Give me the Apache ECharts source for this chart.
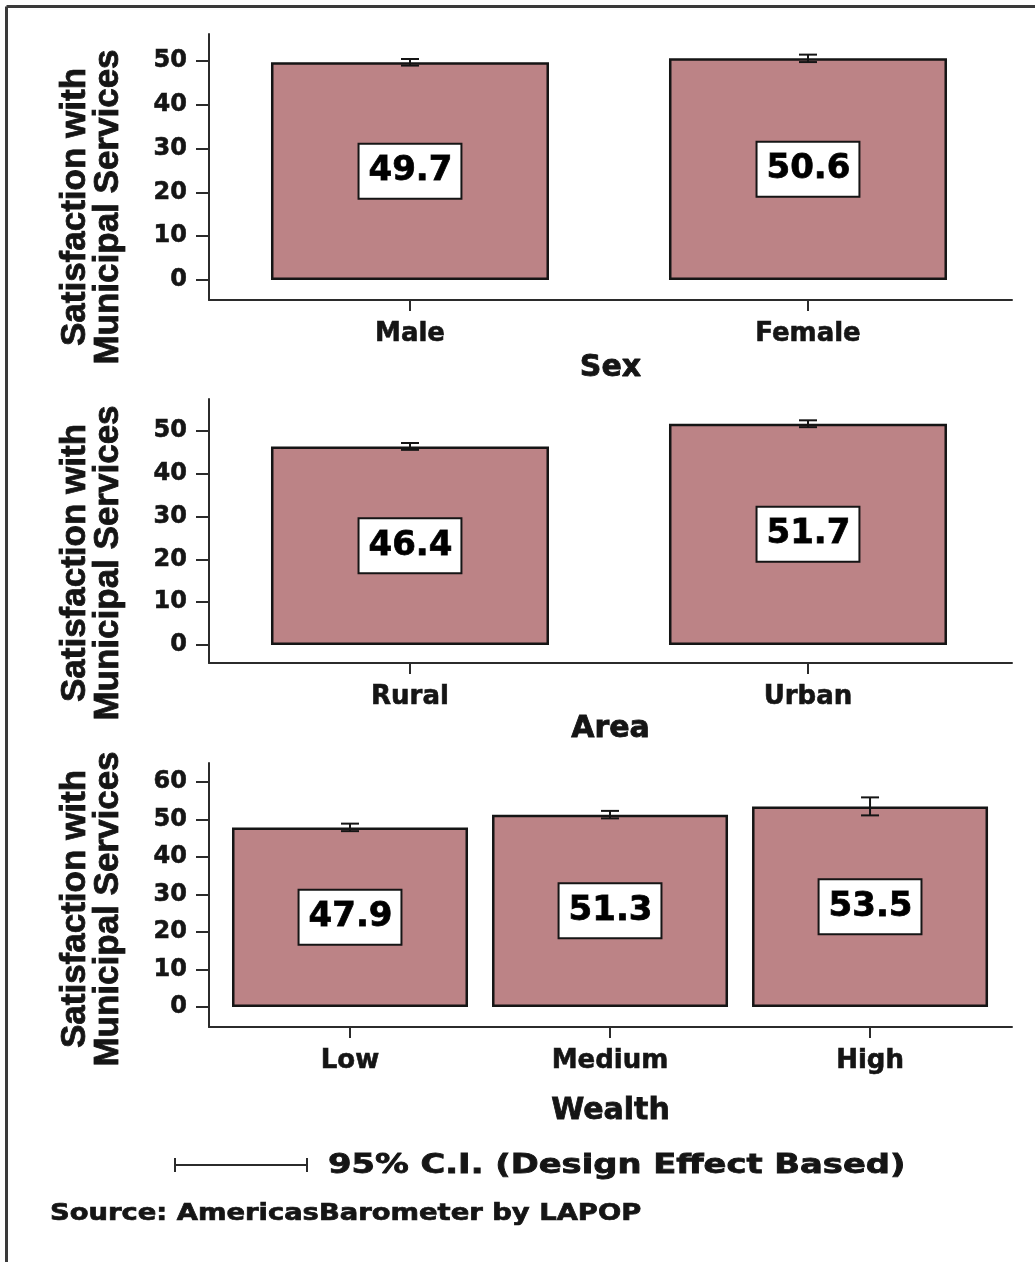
<!DOCTYPE html>
<html>
<head>
<meta charset="utf-8">
<script src="https://cdn.jsdelivr.net/npm/echarts@6/dist/echarts.min.js"></script>
<style>
  html, body { margin: 0; padding: 0; background: #ffffff; }
  #chart { width: 1035px; height: 1262px; }
</style>
</head>
<body>
<div id="chart"></div>
<script>
// Mean satisfaction with municipal services (0-100) by group, with 95% C.I. half-widths
const sexCategories = ['Male', 'Female'];
const sexMeans = [49.7, 50.6];
const sexCI = [0.75, 0.85];

const areaCategories = ['Rural', 'Urban'];
const areaMeans = [46.4, 51.7];
const areaCI = [0.8, 0.8];

const wealthCategories = ['Low', 'Medium', 'High'];
const wealthMeans = [47.9, 51.3, 53.5];
const wealthCI = [1.0, 1.0, 2.4];

const ticksTo50 = [0, 10, 20, 30, 40, 50];
const ticksTo60 = [0, 10, 20, 30, 40, 50, 60];

const yTitle = 'Satisfaction with\nMunicipal Services';
const ciLegendText = '95% C.I. (Design Effect Based)';
const sourceText = 'Source: AmericasBarometer by LAPOP';

const FONT = "'DejaVu Sans', sans-serif";
const TITLE_FONT = "'Liberation Sans', Arial, sans-serif";
const INK = '#151515';
const AXIS = '#2b2b2b';
const BAR_FILL = '#bc8386';

// Heavier strokes on the glyphs for a black-weight look
const heavy = (w) => ({ textBorderColor: INK, textBorderWidth: w });

// Layout of the three stacked panels
const panels = [
  { name: 'Sex', cats: sexCategories, means: sexMeans, ci: sexCI, ticks: ticksTo50,
    top: 34, height: 266, yMin: -4.57, yMax: 56.16, xMin: -0.505, xMax: 1.5126,
    barWidth: 278, nameGap: 53, titleY: 207 },
  { name: 'Area', cats: areaCategories, means: areaMeans, ci: areaCI, ticks: ticksTo50,
    top: 399, height: 264, yMin: -4.21, yMax: 57.48, xMin: -0.505, xMax: 1.5126,
    barWidth: 278, nameGap: 51, titleY: 563 },
  { name: 'Wealth', cats: wealthCategories, means: wealthMeans, ci: wealthCI, ticks: ticksTo60,
    top: 763, height: 264, yMin: -5.33, yMax: 65.07, xMin: -0.5423, xMax: 2.546,
    barWidth: 236, nameGap: 69, titleY: 909 }
];

const grid = [], xAxis = [], yAxis = [], series = [], graphic = [];

panels.forEach((p, i) => {
  grid.push({ left: 209, width: 803, top: p.top, height: p.height });

  xAxis.push({
    type: 'value', gridIndex: i, min: p.xMin, max: p.xMax, position: 'bottom',
    name: p.name, nameLocation: 'middle', nameGap: p.nameGap,
    nameTextStyle: Object.assign({ fontFamily: FONT, fontWeight: 'bold', fontSize: 30, color: INK }, heavy(0.8)),
    axisLine: { show: true, onZero: false, lineStyle: { color: AXIS, width: 2 } },
    axisTick: { show: true, length: 11, customValues: p.cats.map((c, k) => k),
                lineStyle: { color: AXIS, width: 2 } },
    axisLabel: Object.assign({ show: true, margin: 21, customValues: p.cats.map((c, k) => k),
                 formatter: v => p.cats[Math.round(v)],
                 fontFamily: FONT, fontWeight: 'bold', fontSize: 26, color: INK }, heavy(0.6)),
    splitLine: { show: false }
  });

  yAxis.push({
    type: 'value', gridIndex: i, min: p.yMin, max: p.yMax, position: 'left',
    axisLine: { show: true, onZero: false, lineStyle: { color: AXIS, width: 2 } },
    axisTick: { show: true, length: 13, customValues: p.ticks,
                lineStyle: { color: AXIS, width: 2 } },
    axisLabel: Object.assign({ show: true, margin: 22, customValues: p.ticks,
                 fontFamily: FONT, fontWeight: 'bold', fontSize: 24, color: INK }, heavy(0.6)),
    splitLine: { show: false }
  });

  series.push({
    type: 'bar', xAxisIndex: i, yAxisIndex: i, barWidth: p.barWidth, z: 2,
    data: p.means.map((m, k) => [k, m]),
    itemStyle: { color: BAR_FILL, borderColor: INK, borderWidth: 2.5 },
    label: Object.assign({
      show: true, position: 'inside',
      formatter: d => d.value[1].toFixed(1),
      fontFamily: FONT, fontWeight: 'bold', fontSize: 34, lineHeight: 35, color: '#000',
      backgroundColor: '#ffffff', borderColor: INK, borderWidth: 2,
      padding: [9, 8, 9, 9]
    }, heavy(0.8)),
    emphasis: { disabled: true },
    silent: true
  });

  // 95% confidence interval as an I-beam centred on each bar top
  series.push({
    type: 'custom', xAxisIndex: i, yAxisIndex: i, z: 3, silent: true,
    data: p.means.map((m, k) => [k, m, p.ci[k]]),
    encode: { x: 0, y: 1 },
    renderItem: (params, api) => {
      const x = api.value(0), m = api.value(1), h = api.value(2);
      const hi = api.coord([x, m + h]);
      const lo = api.coord([x, m - h]);
      const w = 9;
      const st = { stroke: INK, lineWidth: 2 };
      return {
        type: 'group',
        children: [
          { type: 'line', shape: { x1: hi[0], y1: hi[1], x2: lo[0], y2: lo[1] }, style: st },
          { type: 'line', shape: { x1: hi[0] - w, y1: hi[1], x2: hi[0] + w, y2: hi[1] }, style: st },
          { type: 'line', shape: { x1: lo[0] - w, y1: lo[1], x2: lo[0] + w, y2: lo[1] }, style: st }
        ]
      };
    }
  });

  graphic.push({
    type: 'text', x: 92, y: p.titleY, rotation: Math.PI / 2, silent: true,
    style: Object.assign({
      text: yTitle, fontFamily: TITLE_FONT, fontWeight: 'bold', fontSize: 35,
      lineHeight: 33, fill: INK, align: 'center', verticalAlign: 'middle'
    }, { stroke: INK, lineWidth: 0.8 })
  });
});

// Outer frame (top and left edges)
graphic.push(
  { type: 'line', silent: true, shape: { x1: 6.5, y1: 6.5, x2: 1035, y2: 6.5 },
    style: { stroke: '#3a3a3a', lineWidth: 3 } },
  { type: 'line', silent: true, shape: { x1: 6.5, y1: 6.5, x2: 6.5, y2: 1262 },
    style: { stroke: '#3a3a3a', lineWidth: 3 } }
);

// Confidence-interval key
graphic.push(
  { type: 'line', silent: true, shape: { x1: 175, y1: 1165, x2: 307, y2: 1165 },
    style: { stroke: AXIS, lineWidth: 2 } },
  { type: 'line', silent: true, shape: { x1: 175, y1: 1158, x2: 175, y2: 1172 },
    style: { stroke: AXIS, lineWidth: 2 } },
  { type: 'line', silent: true, shape: { x1: 307, y1: 1158, x2: 307, y2: 1172 },
    style: { stroke: AXIS, lineWidth: 2 } },
  { type: 'text', silent: true, x: 328, y: 1166, scaleX: 1.25,
    style: { text: ciLegendText, fontFamily: FONT, fontWeight: 'bold', fontSize: 27,
             fill: INK, stroke: INK, lineWidth: 0.8, align: 'left', verticalAlign: 'middle' } },
  { type: 'text', silent: true, x: 50, y: 1214, scaleX: 1.19,
    style: { text: sourceText, fontFamily: FONT, fontWeight: 'bold', fontSize: 23,
             fill: INK, stroke: INK, lineWidth: 0.7, align: 'left', verticalAlign: 'middle' } }
);

const chart = echarts.init(document.getElementById('chart'), null, { renderer: 'canvas' });
chart.setOption({
  backgroundColor: '#ffffff',
  animation: false,
  textStyle: { fontFamily: FONT },
  grid, xAxis, yAxis, series, graphic
});
</script>
</body>
</html>
